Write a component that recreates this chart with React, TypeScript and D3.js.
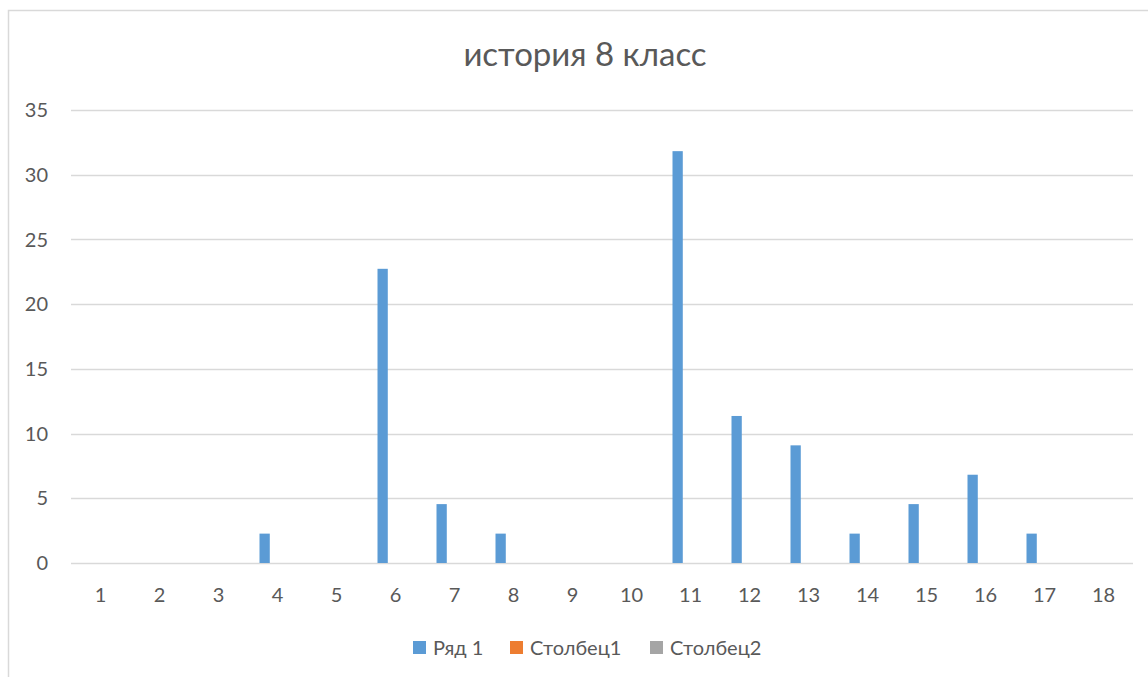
import React from "react";
import * as d3 from "d3";

const categories = ["1","2","3","4","5","6","7","8","9","10","11","12","13","14","15","16","17","18"];
const seriesNames = ["Ряд 1", "Столбец1", "Столбец2"];
const seriesColors = ["#5B9BD5", "#ED7D31", "#A5A5A5"];
const row1 = [0, 0, 0, 2.27, 0, 22.73, 4.55, 2.27, 0, 0, 31.82, 11.36, 9.09, 2.27, 4.55, 6.82, 2.27, 0];
const col1: number[] = [];
const col2: number[] = [];
const yTicks = [0, 5, 10, 15, 20, 25, 30, 35];
const title = "история 8 класс";

const W = 1148;
const H = 677;
const plot = { left: 71, right: 1133, top: 110, bottom: 563 };
const FONT = "Lato, 'Open Sans', sans-serif";
const TEXT = "#595959";

export default function App() {
  const x0 = d3.scaleBand<string>().domain(categories).range([plot.left, plot.right]).paddingInner(0).paddingOuter(0);
  const step = x0.step();
  const groupW = 36;
  const x1 = d3.scaleBand<string>().domain(seriesNames).range([0, groupW]).paddingInner(0.2);
  const y = d3.scaleLinear().domain([0, 35]).range([plot.bottom, plot.top]);
  const allSeries = [row1, col1, col2];

  const legendItems = [
    { name: seriesNames[0], color: seriesColors[0], x: 413 },
    { name: seriesNames[1], color: seriesColors[1], x: 510 },
    { name: seriesNames[2], color: seriesColors[2], x: 650 },
  ];

  return (
    <svg width={W} height={H} style={{ position: "absolute", left: 0, top: 0, background: "#fff" }}>
      <rect x={8.5} y={10.5} width={1300} height={1000} fill="#fff" stroke="#D9D9D9" strokeWidth={1.5} />
      <text x={585} y={66} textAnchor="middle" fontFamily={FONT} fontSize={33} fill={TEXT}>{title}</text>
      {yTicks.map((t) => (
        <g key={t}>
          <line x1={plot.left} x2={plot.right} y1={Math.round(y(t)) + 0.5} y2={Math.round(y(t)) + 0.5} stroke="#D9D9D9" strokeWidth={1.5} />
          <text x={48} y={y(t)} dy="0.36em" textAnchor="end" fontFamily={FONT} fontSize={20} fill={TEXT}>{t}</text>
        </g>
      ))}
      {categories.map((c) => (
        <text key={c} x={(x0(c) as number) + step / 2} y={602} textAnchor="middle" fontFamily={FONT} fontSize={20} fill={TEXT}>{c}</text>
      ))}
      {allSeries.map((vals, si) =>
        vals.map((v, i) => {
          if (!v) return null;
          const cx = (x0(categories[i]) as number) + step / 2 - groupW / 2 + (x1(seriesNames[si]) as number);
          return <rect key={`${si}-${i}`} x={cx} y={y(v)} width={x1.bandwidth()} height={y(0) - y(v)} fill={seriesColors[si]} />;
        })
      )}
      {legendItems.map((it) => (
        <g key={it.name}>
          <rect x={it.x} y={641} width={13} height={13} fill={it.color} />
          <text x={it.x + 20} y={655} fontFamily={FONT} fontSize={20} fill={TEXT}>{it.name}</text>
        </g>
      ))}
    </svg>
  );
}
